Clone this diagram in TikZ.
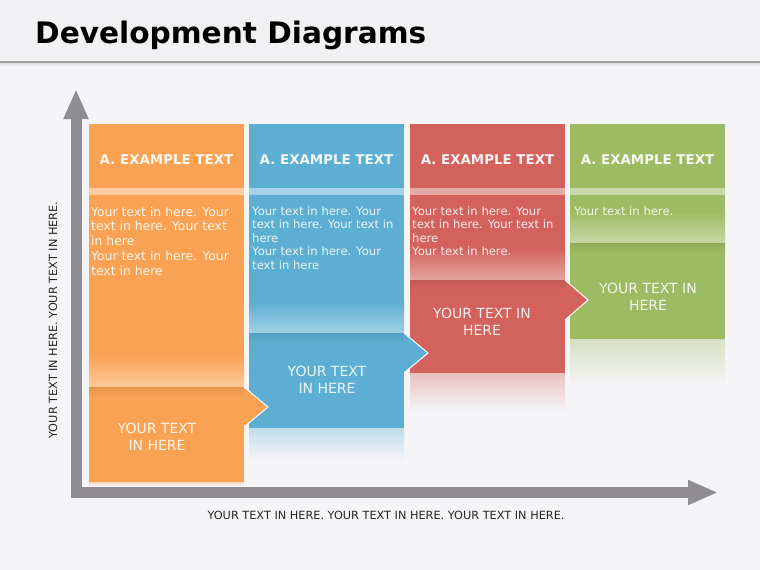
\documentclass[tikz,border=0pt]{standalone}
\usepackage{fontspec}
\setmainfont{DejaVu Sans}
\usetikzlibrary{arrows.meta}

\definecolor{pageback}{HTML}{F5F4F7}
\definecolor{headback}{HTML}{F1F0F3}
\definecolor{axisgray}{HTML}{8F8D91}
\definecolor{colOrange}{HTML}{FAA253}
\definecolor{colBlue}{HTML}{5CAED2}
\definecolor{colRed}{HTML}{D2625B}
\definecolor{colGreen}{HTML}{9DBB62}

\tikzset{
    headtext/.style={font=\bfseries\fontsize{13.4}{16}\selectfont},
    bodytext/.style={anchor=north west, inner sep=0pt, align=left, font=\fontsize{11.6}{13.4}\selectfont},
    boxtext/.style={align=center, inner sep=0pt, font=\fontsize{14}{17}\selectfont},
    axislabel/.style={text=black!85, font=\fontsize{11.3}{13}\selectfont},
    axisarrow/.style={axisgray, line width=11pt, line join=miter,
        {Triangle[width=23pt,length=30pt]}-{Triangle[width=23pt,length=30pt]}},
}

\begin{document}
\begin{tikzpicture}[x=1pt, y=-1pt]

    \useasboundingbox (0,0) rectangle (760,570);
    \fill[pageback] (0,0) rectangle (760,570);

    % --- Title bar ---
    \fill[headback] (0,0) rectangle (760,62);
    \shade[top color=black!15, bottom color=pageback] (0,62) rectangle (760,66);
    \draw[black!38, line width=1.2pt] (0,62) -- (760,62);
    \node[anchor=base west, inner sep=0pt, font=\bfseries\fontsize{29.6}{34}\selectfont] (title) at (35,43.5) {Development Diagrams};

    % --- Axes ---
    \coordinate (ytip) at (76,89);
    \coordinate (corner) at (76,492.5);
    \coordinate (xtip) at (718,492.5);
    \draw[axisarrow] (ytip) -- (corner) -- (xtip);

    \node[axislabel, rotate=90] (ylabel) at (53,320) {YOUR TEXT IN HERE. YOUR TEXT IN HERE.};
    \node[axislabel] (xlabel) at (386,515) {YOUR TEXT IN HERE. YOUR TEXT IN HERE. YOUR TEXT IN HERE.};

    % --- Columns (header, stripe, body, box, reflection) ---
    \foreach \name/\x/\col/\btop/\bbot/\refl in {
        orange/89/colOrange/387/482/4,
        blue/249/colBlue/333/428/32,
        red/410/colRed/280/373/38,
        green/570/colGreen/243/339/46} {
        \fill[\col] (\x,124) rectangle (\x+155,188);
        \fill[\col!55!white] (\x,188) rectangle (\x+155,195);
        \fill[\col] (\x,195) rectangle (\x+155,\btop-32);
        \shade[top color=\col, bottom color=\col!58!white] (\x,\btop-32) rectangle (\x+155,\btop);
        \shade[top color=\col!92!black, bottom color=\col] (\x,\btop) rectangle (\x+155,\btop+10);
        \fill[\col] (\x,\btop+10) rectangle (\x+155,\bbot);
        \shade[top color=\col!35!pageback, bottom color=pageback] (\x,\bbot) rectangle (\x+155,\bbot+\refl);
        \node[headtext, text=\col!8!white] (head-\name) at (\x+77.5,160) {A. EXAMPLE TEXT};
    }

    % --- Arrow tips pointing into the next column ---
    \foreach \x/\col/\btop/\tip in {89/colOrange/387/24, 249/colBlue/333/24, 410/colRed/280/23} {
        \fill[\col] (\x+154.5,\btop) -- (\x+155+\tip,\btop+20) -- (\x+154.5,\btop+40) -- cycle;
        \draw[white, line width=1pt] (\x+155,\btop) -- (\x+155+\tip,\btop+20) -- (\x+155,\btop+40);
    }

    % --- Body texts ---
    \node[bodytext, text=colOrange!12!white, font=\fontsize{12.4}{14.8}\selectfont] (body-orange) at (91,206.5)
        {Your text in here. Your\\text in here. Your text\\in here\\Your text in here. Your\\text in here};
    \node[bodytext, text=colBlue!12!white] (body-blue) at (252,206.5)
        {Your text in here. Your\\text in here. Your text in\\here\\Your text in here. Your\\text in here};
    \node[bodytext, text=colRed!12!white] (body-red) at (412,206.5)
        {Your text in here. Your\\text in here. Your text in\\here\\Your text in here.};
    \node[bodytext, text=colGreen!12!white] (body-green) at (574,206.5) {Your text in here.};

    % --- Box texts ---
    \node[boxtext, text=colOrange!12!white] (box-orange) at (157,437) {YOUR TEXT\\IN HERE};
    \node[boxtext, text=colBlue!12!white] (box-blue) at (327,380) {YOUR TEXT\\IN HERE};
    \node[boxtext, text=colRed!12!white] (box-red) at (482,322) {YOUR TEXT IN\\HERE};
    \node[boxtext, text=colGreen!12!white] (box-green) at (648,296.5) {YOUR TEXT IN\\HERE};

\end{tikzpicture}
\end{document}
